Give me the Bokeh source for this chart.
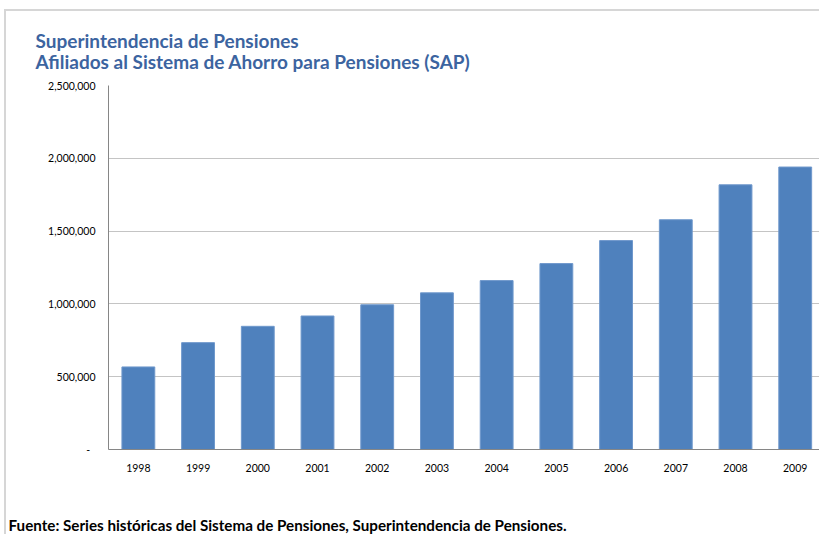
from bokeh.plotting import figure
from bokeh.models import Range1d, FixedTicker, NumeralTickFormatter, Title
from bokeh.embed import file_html
from bokeh.resources import INLINE

years = ["1998", "1999", "2000", "2001", "2002", "2003", "2004", "2005", "2006", "2007", "2008", "2009"]
afiliados = [567000, 734000, 846000, 917000, 994000, 1076000, 1160000, 1277000, 1435000, 1578000, 1818000, 1940000]
y_ticks = [0, 500000, 1000000, 1500000, 2000000, 2500000]

title_line1 = "Superintendencia de Pensiones"
title_line2 = "Afiliados al Sistema de Ahorro para Pensiones (SAP)"
footer = "Fuente:  Series históricas del Sistema de Pensiones, Superintendencia de Pensiones."

FONT = "Lato"
TITLE_COLOR = "#3C64A0"

x_idx = list(range(len(years)))

p = figure(x_range=Range1d(-0.5, 11.44), y_range=Range1d(0, 2500000), width=819, height=534,
           output_backend="svg", toolbar_location=None,
           min_border_left=106, min_border_right=0, min_border_top=83, min_border_bottom=0)

p.vbar(x=x_idx, top=afiliados, width=0.55, fill_color="#4F81BD", line_color="#6F98CC", line_width=1)

p.outline_line_color = None
p.background_fill_color = "white"
p.border_fill_alpha = 0

p.yaxis.ticker = FixedTicker(ticks=y_ticks)
p.yaxis.formatter = NumeralTickFormatter(format="0,0")
p.yaxis.major_label_overrides = {0: "-\u00a0\u00a0"}
p.yaxis.major_tick_line_color = None
p.yaxis.major_tick_out = 0
p.yaxis.major_tick_in = 0
p.yaxis.minor_tick_line_color = None
p.yaxis.axis_line_color = "#868686"
p.yaxis.major_label_standoff = 13
p.yaxis.major_label_text_font = FONT
p.yaxis.major_label_text_font_size = "10.5px"
p.yaxis.major_label_text_color = "black"

p.xaxis.ticker = FixedTicker(ticks=x_idx)
p.xaxis.major_label_overrides = {i: y for i, y in zip(x_idx, years)}
p.xaxis.major_tick_line_color = None
p.xaxis.major_tick_out = 0
p.xaxis.major_tick_in = 0
p.xaxis.minor_tick_line_color = None
p.xaxis.axis_line_color = "#868686"
p.xaxis.major_label_standoff = 14
p.xaxis.major_label_text_font = FONT
p.xaxis.major_label_text_font_size = "10.5px"
p.xaxis.major_label_text_color = "black"

p.xgrid.grid_line_color = None
p.ygrid.grid_line_color = "#c4c4c4"
p.ygrid.grid_line_width = 1

t2 = Title(text=title_line2, text_font=FONT, text_font_size="19px", text_font_style="bold",
           text_color=TITLE_COLOR, align="left", offset=-73, standoff=26)
t1 = Title(text=title_line1, text_font=FONT, text_font_size="19px", text_font_style="bold",
           text_color=TITLE_COLOR, align="left", offset=-73, standoff=-35)
p.add_layout(t2, "above")
p.add_layout(t1, "above")

spacer = Title(text=" ", text_font=FONT, text_font_size="10px", standoff=22)
p.add_layout(spacer, "below")
f = Title(text=footer, text_font=FONT, text_font_size="15.2px", text_font_style="bold",
          text_color="black", align="left", offset=-100, standoff=6)
p.add_layout(f, "below")

p.styles = {
    "border-top": "2px solid transparent",
    "border-left": "2px solid transparent",
    "background-image": "linear-gradient(#d6d6d6, #d6d6d6), linear-gradient(#d6d6d6, #d6d6d6)",
    "background-size": "2px 100%, 100% 2px",
    "background-position": "4px 9px, 4px 9px",
    "background-repeat": "no-repeat",
    "background-origin": "border-box",
}

open("out.html", "w").write(file_html(p, INLINE))
